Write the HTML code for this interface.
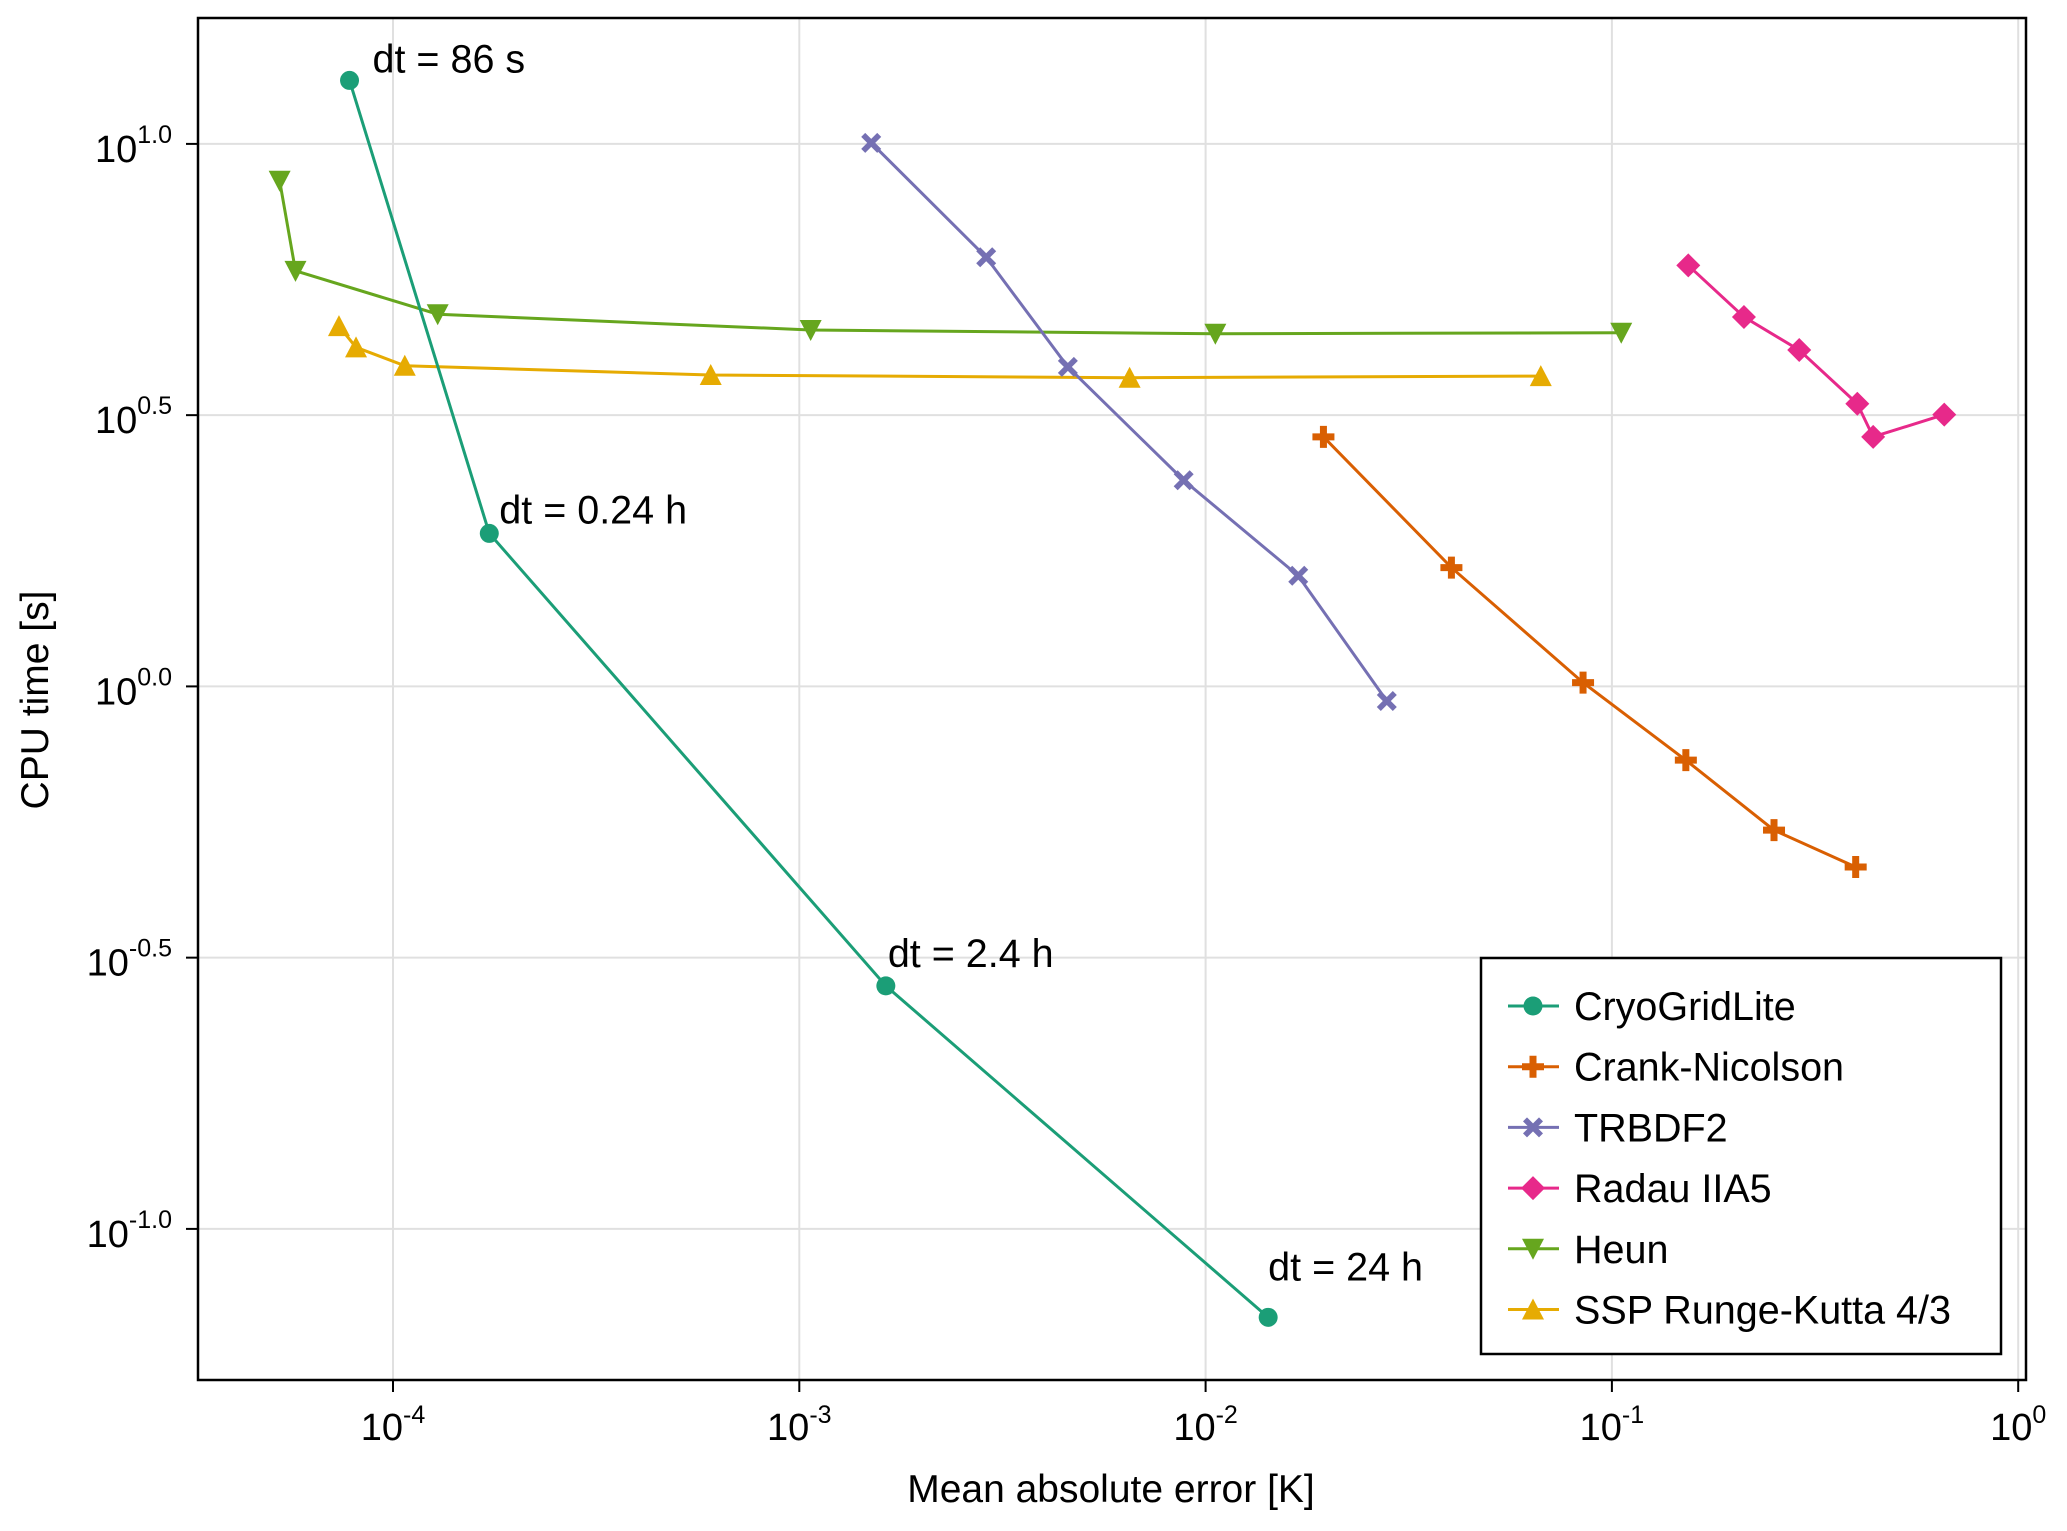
<!DOCTYPE html>
<html><head><meta charset="utf-8"><style>
html,body{margin:0;padding:0;background:#fff;}
svg{display:block;font-family:"Liberation Sans",sans-serif;}
</style></head><body>
<svg id="chart" width="2067" height="1531" viewBox="0 0 2067 1531" xmlns="http://www.w3.org/2000/svg">
<rect width="2067" height="1531" fill="#fff"/>
<g id="grid"></g>
<g id="series"></g>
<g id="annots"></g>
<rect x="198" y="18" width="1828" height="1362" fill="none" stroke="#000" stroke-width="2.5"/>
<g id="axes"></g>
<text x="1111" y="1502" font-size="39" text-anchor="middle">Mean absolute error [K]</text>
<text x="0" y="0" font-size="39" text-anchor="middle" transform="translate(48,700) rotate(-90)">CPU time [s]</text>
<g id="legend"></g>
</svg>
<script>
// log10 values
const cryoX=[-4.107,-3.763,-2.787,-1.846];
const cryoY=[1.117,0.282,-0.552,-1.163];
const cnX=[-1.710,-1.395,-1.071,-0.818,-0.601,-0.400];
const cnY=[0.460,0.219,0.007,-0.136,-0.265,-0.333];
const trX=[-2.823,-2.540,-2.339,-2.054,-1.772,-1.554];
const trY=[1.002,0.791,0.589,0.380,0.204,-0.027];
const raX=[-0.812,-0.675,-0.539,-0.396,-0.357,-0.182];
const raY=[0.776,0.681,0.620,0.521,0.460,0.501];
const heX=[-4.279,-4.240,-3.890,-2.972,-1.976,-0.977];
const heY=[0.932,0.766,0.686,0.657,0.650,0.652];
const ssX=[-4.133,-4.091,-3.971,-3.218,-2.187,-1.175];
const ssY=[0.664,0.625,0.591,0.574,0.569,0.572];
const seriesNames=["CryoGridLite","Crank-Nicolson","TRBDF2","Radau IIA5","Heun","SSP Runge-Kutta 4/3"];
const xTicks=[-4,-3,-2,-1,0];
const xTickLabels=["-4","-3","-2","-1","0"];
const yTicks=[1.0,0.5,0.0,-0.5,-1.0];
const yTickLabels=["1.0","0.5","0.0","-0.5","-1.0"];
const annotLabels=["dt = 86 s","dt = 0.24 h","dt = 2.4 h","dt = 24 h"];

const NS="http://www.w3.org/2000/svg";
const L=198,R=2026,T=18,B=1380;
const x=v=>393+(v+4)*406.3;
const y=v=>686.4-v*542.5;
function mk(tag,attrs,parent){const e=document.createElementNS(NS,tag);for(const k in attrs)e.setAttribute(k,attrs[k]);parent.appendChild(e);return e;}
const grid=document.getElementById('grid'),axes=document.getElementById('axes');
xTicks.forEach((t,i)=>{
  const g=mk('line',{x1:x(t),x2:x(t),y1:T,y2:B,stroke:'#e0e0e0','stroke-width':2},grid);
  
  
  const tk=mk('line',{x1:x(t),x2:x(t),y1:B,y2:B+12,stroke:'#000','stroke-width':2},axes);
  
  
  const tx=mk('text',{x:x(t),y:B+60,'font-size':38,'text-anchor':'middle'},axes);
  
  
  tx.innerHTML='10<tspan font-size="25" dy="-17">'+xTickLabels[i]+'</tspan>';
});
yTicks.forEach((t,i)=>{
  const g=mk('line',{x1:L,x2:R,y1:y(t),y2:y(t),stroke:'#e0e0e0','stroke-width':2},grid);
  
  
  const tk=mk('line',{x1:L-12,x2:L,y1:y(t),y2:y(t),stroke:'#000','stroke-width':2},axes);
  
  
  const tx=mk('text',{x:L-26,y:y(t)+18,'font-size':38,'text-anchor':'end'},axes);
  
  
  tx.innerHTML='10<tspan font-size="25" dy="-19">'+yTickLabels[i]+'</tspan>';
});
function marker(type,cx,cy,col,p){
  const s=11;let e;
  if(type==='circle')e=mk('circle',{cx,cy,r:9.5,fill:col},p);
  else if(type==='cross')e=mk('path',{d:`M${cx-3.5},${cy-11}h7v7.5h7.5v7h-7.5v7.5h-7v-7.5h-7.5v-7h7.5z`,fill:col},p);
  else if(type==='x')e=mk('path',{d:`M${cx},${cy}m-10,-6l4,-4l6,6l6,-6l4,4l-6,6l6,6l-4,4l-6,-6l-6,6l-4,-4l6,-6z`,fill:col},p);
  else if(type==='diamond')e=mk('path',{d:`M${cx},${cy-12}L${cx+12},${cy}L${cx},${cy+12}L${cx-12},${cy}z`,fill:col},p);
  else if(type==='down')e=mk('path',{d:`M${cx-s},${cy-10}L${cx+s},${cy-10}L${cx},${cy+11}z`,fill:col},p);
  else e=mk('path',{d:`M${cx-s},${cy+10}L${cx+s},${cy+10}L${cx},${cy-11}z`,fill:col},p);
  return e;
}
const cols=["#1b9e77","#d95f02","#7570b3","#e7298a","#66a61e","#e6ab02"];
const types=["circle","cross","x","diamond","down","up"];
const xs=[cryoX,cnX,trX,raX,heX,ssX],ys=[cryoY,cnY,trY,raY,heY,ssY];
const sg=document.getElementById('series');
const order=[4,5,0,1,2,3];
order.forEach(i=>{
  const g=mk('g',{},sg);
  
  
  const pts=xs[i].map((v,j)=>x(v)+','+y(ys[i][j])).join(' ');
  const pl=mk('polyline',{points:pts,fill:'none',stroke:cols[i],'stroke-width':3},g);
  
  
  xs[i].forEach((v,j)=>{
    const m=marker(types[i],x(v),y(ys[i][j]),cols[i],g);
    
    
  });
});
const an=document.getElementById('annots');
const offs=[[23,-8],[10,-10],[2,-19],[0,-37]];
annotLabels.forEach((s,i)=>{
  const t=mk('text',{x:x(cryoX[i])+offs[i][0],y:y(cryoY[i])+offs[i][1],'font-size':39.5},an);
  
  
  t.textContent=s;
});
const lg=document.getElementById('legend');
const box=mk('rect',{x:1481,y:958,width:520,height:396,fill:'#fff',stroke:'#000','stroke-width':2.5},lg);


seriesNames.forEach((n,i)=>{
  const ly=1006+i*60.7;
  const g=mk('g',{},lg);
  
  
  mk('line',{x1:1508,x2:1559,y1:ly,y2:ly,stroke:cols[i],'stroke-width':3},g);
  marker(types[i],1533,ly,cols[i],g);
  const t=mk('text',{x:1574,y:ly+14,'font-size':39.5},g);
  t.textContent=n;
});
</script>
</body></html>
